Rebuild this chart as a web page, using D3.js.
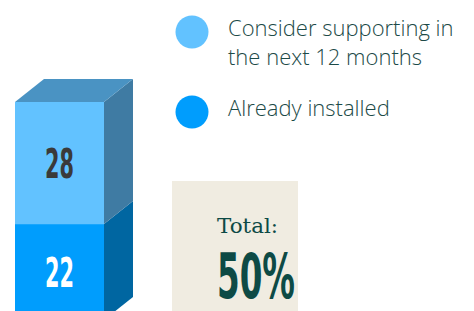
<!DOCTYPE html>
<html>
<head>
<meta charset="utf-8">
<script src="https://cdn.jsdelivr.net/npm/d3@7"></script>
<style>
  body { margin: 0; background: #fff; }
  svg { display: block; }
</style>
</head>
<body>
<svg id="chart" width="474" height="311"></svg>
<script>
// data
var categories = ["Already installed", "Consider supporting in the next 12 months"];
var legendLines = [["Consider supporting in", "the next 12 months"], ["Already installed"]];
var values = [22, 28];
var totalLabel = "Total:";
var totalValue = "50%";

var frontColors = ["#009dfd", "#62c2ff"];
var sideColors = ["#0066a1", "#3f7ba3"];
var topColor = "#4a93c3";
var labelColors = ["#ffffff", "#3a3a3a"];
var textColor = "#1c4a47";

var svg = d3.select("#chart");

var y = d3.scaleLinear().domain([0, 50]).range([320, 102]);
var x = d3.scaleBand().domain(["bar"]).range([15, 104]).padding(0);
var dx = 29, dy = -23;

var stack = [];
var acc = 0;
values.forEach(function(v, i) {
  stack.push({ v: v, y0: acc, y1: acc + v, i: i });
  acc += v;
});

var x0 = x("bar"), x1 = x0 + x.bandwidth();

var g = svg.append("g");

// right side faces
g.selectAll("path.side")
  .data(stack)
  .enter().append("path")
    .attr("class", "side")
    .attr("d", function(d) {
      return "M" + x1 + "," + y(d.y1) + "L" + (x1 + dx) + "," + (y(d.y1) + dy) +
        "L" + (x1 + dx) + "," + (y(d.y0) + dy) + "L" + x1 + "," + y(d.y0) + "Z";
    })
    .attr("fill", function(d) { return sideColors[d.i]; });

// front faces
g.selectAll("rect.front")
  .data(stack)
  .enter().append("rect")
    .attr("class", "front")
    .attr("x", x0)
    .attr("y", function(d) { return y(d.y1); })
    .attr("width", x.bandwidth())
    .attr("height", function(d) { return y(d.y0) - y(d.y1); })
    .attr("fill", function(d) { return frontColors[d.i]; });

// top face
var topY = y(acc);
g.append("path")
  .attr("d", "M" + x0 + "," + topY + "L" + (x0 + dx) + "," + (topY + dy) +
    "L" + (x1 + dx) + "," + (topY + dy) + "L" + x1 + "," + topY + "Z")
  .attr("fill", topColor);

// value labels
g.selectAll("text.val")
  .data(stack)
  .enter().append("text")
    .attr("class", "val")
    .attr("x", (x0 + x1) / 2)
    .attr("y", function(d) { return (y(d.y0) + y(d.y1)) / 2 + 15; })
    .attr("text-anchor", "middle")
    .attr("font-family", "'DejaVu Sans', sans-serif")
    .attr("font-weight", "bold")
    .attr("font-size", 41)
    .attr("textLength", 29)
    .attr("lengthAdjust", "spacingAndGlyphs")
    .attr("fill", function(d) { return labelColors[d.i]; })
    .text(function(d) { return d.v; });

// legend
var legendColors = [frontColors[1], frontColors[0]];
var legendY = [32, 112];
var legend = svg.selectAll("g.legend")
  .data(legendLines)
  .enter().append("g")
    .attr("class", "legend")
    .attr("transform", function(d, i) { return "translate(192," + legendY[i] + ")"; });

legend.append("circle")
  .attr("r", 16.5)
  .attr("fill", function(d, i) { return legendColors[i]; });

legend.append("text")
  .attr("font-family", "'Open Sans', sans-serif")
  .attr("font-weight", 300)
  .attr("font-size", 22)
  .attr("fill", textColor)
  .selectAll("tspan")
  .data(function(d) { return d; })
  .enter().append("tspan")
    .attr("x", 36)
    .attr("y", function(d, j) { return 4 + j * 29; })
    .text(function(d) { return d; });

// total box
svg.append("rect")
  .attr("x", 172).attr("y", 181)
  .attr("width", 126).attr("height", 130)
  .attr("fill", "#f0ece1");

svg.append("text")
  .attr("x", 217).attr("y", 233)
  .attr("font-family", "'DejaVu Serif', serif")
  .attr("font-size", 21)
  .attr("textLength", 61)
  .attr("lengthAdjust", "spacingAndGlyphs")
  .attr("fill", "#0d4a45")
  .text(totalLabel);

svg.append("text")
  .attr("x", 217).attr("y", 298)
  .attr("font-family", "'DejaVu Sans', sans-serif")
  .attr("font-weight", "bold")
  .attr("font-size", 62)
  .attr("textLength", 78)
  .attr("lengthAdjust", "spacingAndGlyphs")
  .attr("fill", "#0d4a45")
  .text(totalValue);
</script>
</body>
</html>
